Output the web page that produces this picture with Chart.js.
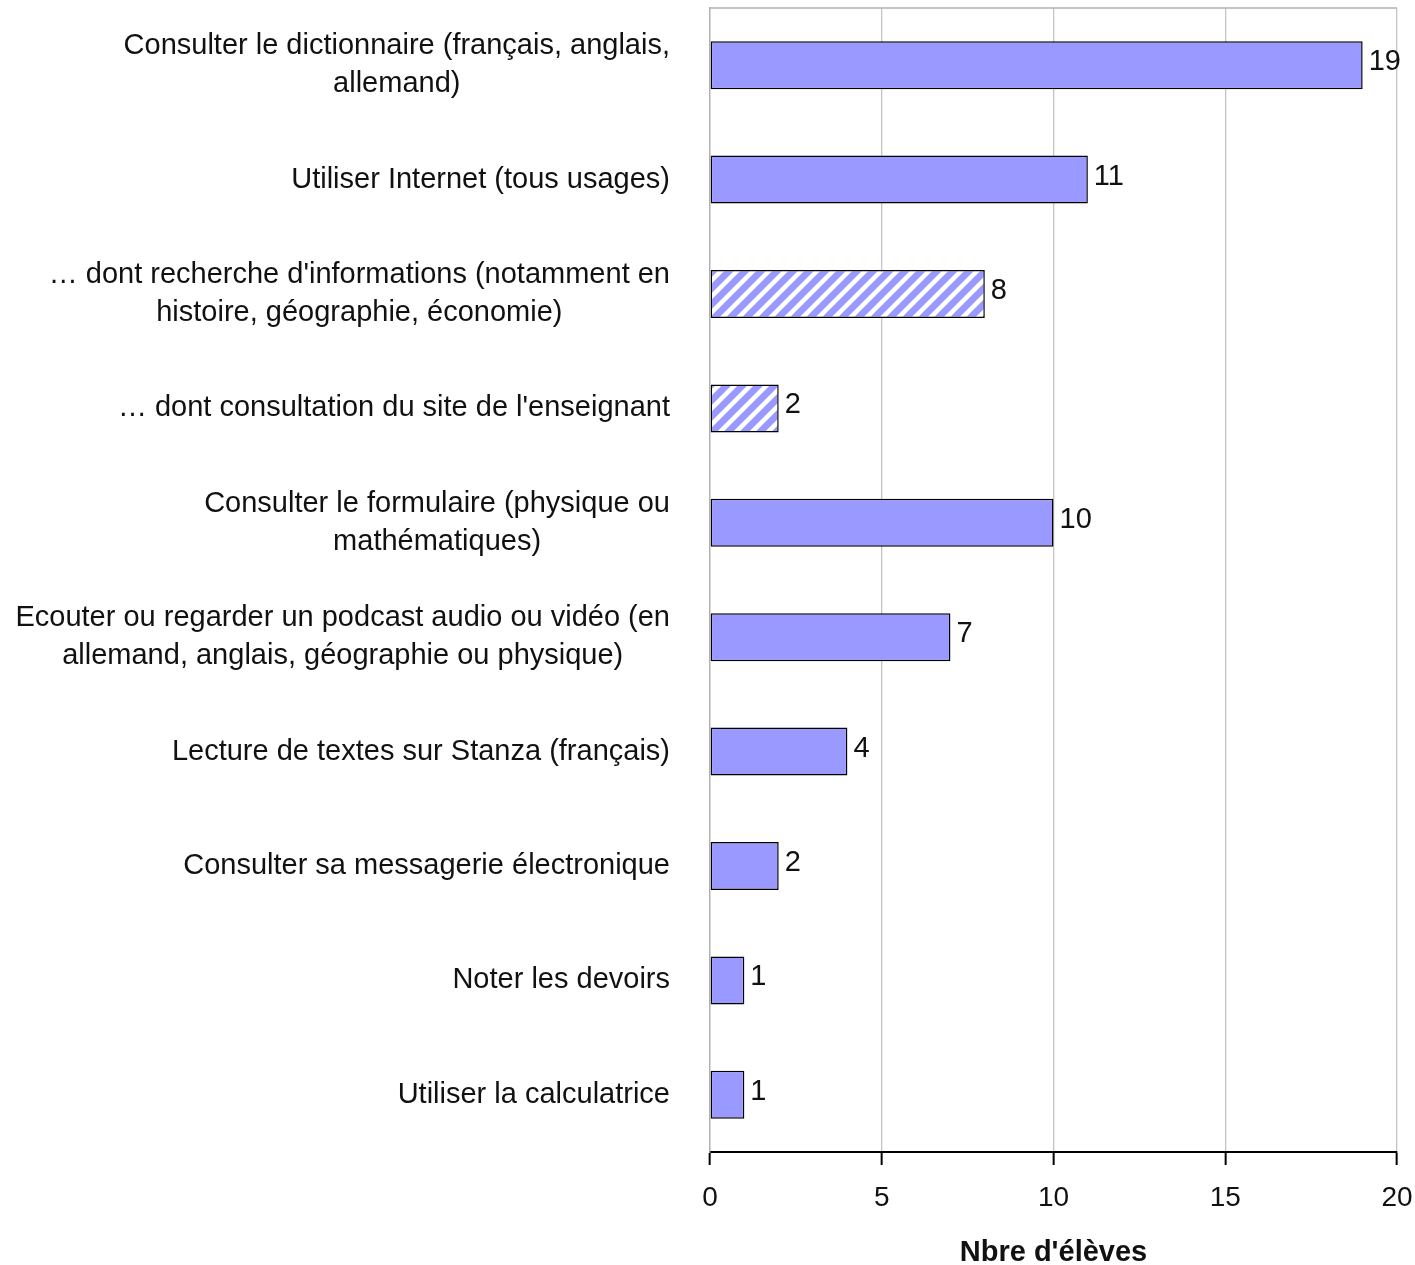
<!DOCTYPE html>
<html>
<head>
<meta charset="utf-8">
<script src="https://cdn.jsdelivr.net/npm/chart.js@4.4.0/dist/chart.umd.min.js"></script>
<style>
  html, body { margin: 0; padding: 0; background: #fff; }
</style>
</head>
<body>
<canvas id="barChart" width="1415" height="1265"></canvas>
<script>
// data
const categories = [
  ["Consulter le dictionnaire (français, anglais,", "allemand)"],
  ["Utiliser Internet (tous usages)"],
  ["… dont recherche d'informations (notamment en", "histoire, géographie, économie)"],
  ["… dont consultation du site de l'enseignant"],
  ["Consulter le formulaire (physique ou", "mathématiques)"],
  ["Ecouter ou regarder un podcast audio ou vidéo (en", "allemand, anglais, géographie ou physique)"],
  ["Lecture de textes sur Stanza (français)"],
  ["Consulter sa messagerie électronique"],
  ["Noter les devoirs"],
  ["Utiliser la calculatrice"]
];
const eleves = [19, 11, 8, 2, 10, 7, 4, 2, 1, 1];
const xTicks = [0, 5, 10, 15, 20];
const axisTitle = "Nbre d'élèves";

// style
const hatchedRows = [2, 3];
const BAR = "#9999ff";
const TEXT = "#111";
const FONT = "'Liberation Sans', Arial, sans-serif";

function makeHatch() {
  const c = document.createElement("canvas");
  c.width = 16; c.height = 16;
  const g = c.getContext("2d");
  g.fillStyle = BAR;
  g.fillRect(0, 0, 16, 16);
  g.strokeStyle = "#fff";
  g.lineWidth = 4.5;
  g.beginPath();
  g.moveTo(-4, 20); g.lineTo(20, -4);
  g.moveTo(-4, 4); g.lineTo(4, -4);
  g.moveTo(12, 20); g.lineTo(20, 12);
  g.stroke();
  return g.createPattern(c, "repeat");
}

const ctx = document.getElementById("barChart").getContext("2d");
const hatch = makeHatch();

const labelPlugin = {
  id: "labels",
  afterDatasetsDraw(chart) {
    const c = chart.ctx;
    const yScale = chart.scales.y;
    c.save();
    c.fillStyle = TEXT;
    c.font = "29px " + FONT;

    // values at bar ends
    c.textAlign = "left";
    c.textBaseline = "middle";
    chart.getDatasetMeta(0).data.forEach((bar, i) => {
      c.fillText(String(eleves[i]), bar.x + 6, bar.y - 3);
    });

    // category labels: wrapped block, lines centred, block right-aligned
    c.textAlign = "center";
    categories.forEach((lines, i) => {
      const y = yScale.getPixelForValue(i);
      const w = Math.max(...lines.map(l => c.measureText(l).width));
      const cx = 670 - w / 2;
      lines.forEach((l, j) => {
        c.fillText(l, cx, y + (j - (lines.length - 1) / 2) * 38);
      });
    });

    // top border of plot
    const a = chart.chartArea;
    c.strokeStyle = "#b0b0b0";
    c.lineWidth = 1.3;
    c.beginPath();
    c.moveTo(a.left, a.top);
    c.lineTo(a.right, a.top);
    c.stroke();
    c.restore();
  }
};

Chart.defaults.font.family = FONT;
Chart.defaults.color = TEXT;

new Chart(ctx, {
  type: "bar",
  data: {
    labels: categories,
    datasets: [{
      data: eleves,
      backgroundColor: eleves.map((_, i) => hatchedRows.includes(i) ? hatch : BAR),
      borderColor: "#000",
      borderWidth: 1.5,
      borderSkipped: false,
      categoryPercentage: 1,
      barPercentage: 0.42
    }]
  },
  options: {
    indexAxis: "y",
    responsive: false,
    animation: false,
    layout: { padding: { top: 8, right: 18, left: 0, bottom: 0 } },
    plugins: {
      legend: { display: false },
      tooltip: { enabled: false }
    },
    scales: {
      x: {
        min: 0,
        max: 20,
        afterBuildTicks: s => { s.ticks = xTicks.map(v => ({ value: v })); },
        afterFit: s => { s.height = 113; s.paddingLeft = 0; s.paddingRight = 0; },
        grid: { color: "#c4c4c4", lineWidth: 1.3, tickColor: "#000", tickLength: 13, tickWidth: 2 },
        border: { color: "#000", width: 2 },
        ticks: { font: { size: 28 }, padding: 16, color: TEXT, maxRotation: 0 },
        title: {
          display: true,
          text: axisTitle,
          font: { size: 29, weight: "bold" },
          color: TEXT,
          padding: { top: 0, bottom: -5 }
        }
      },
      y: {
        afterFit: s => { s.width = 710; },
        grid: { display: false },
        border: { color: "#b0b0b0", width: 1.3 },
        ticks: { display: false }
      }
    }
  },
  plugins: [labelPlugin]
});
</script>
</body>
</html>
